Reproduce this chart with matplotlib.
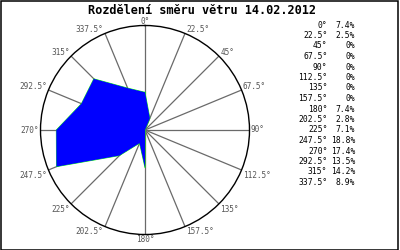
import numpy as np
import matplotlib
matplotlib.use("Agg")
import matplotlib.pyplot as plt
from matplotlib.patches import Rectangle

title = "Rozdělení směru větru 14.02.2012"
directions = [0, 22.5, 45, 67.5, 90, 112.5, 135, 157.5,
              180, 202.5, 225, 247.5, 270, 292.5, 315, 337.5]
percent = [7.4, 2.5, 0, 0, 0, 0, 0, 0,
           7.4, 2.8, 7.1, 18.8, 17.4, 13.5, 14.2, 8.9]

RMAX = 20.5
W, H = 400, 250
mono = "DejaVu Sans Mono"

fig = plt.figure(figsize=(4, 2.5), dpi=100)
fig.patch.set_facecolor("white")

cx, cy, R = 145, 130, 104.5
ax = fig.add_axes([(cx - R) / W, (H - cy - R) / H, 2 * R / W, 2 * R / H],
                  projection="polar")
ax.set_theta_zero_location("N")
ax.set_theta_direction(-1)
ax.set_ylim(0, RMAX)
ax.set_xticks([])
ax.set_yticks([])
ax.grid(False)
ax.set_facecolor("white")
ax.spines["polar"].set_color("black")
ax.spines["polar"].set_linewidth(1.0)

theta = np.deg2rad(directions)
# spokes
for t in theta:
    ax.plot([t, t], [0, RMAX], color="#6a6a6a", lw=0.9, zorder=1)

# data polygon
th_c = np.append(theta, theta[0])
r_c = np.append(percent, percent[0])
ax.plot(th_c, r_c, color="#00ff00", lw=0.6, zorder=2)
ax.fill(th_c, r_c, facecolor="#0000ff", edgecolor="none", zorder=3)

# direction labels
for d, t in zip(directions, theta):
    s, c = np.sin(t), np.cos(t)
    if abs(s) < 1e-6:
        ha = "center"
    elif s > 0:
        ha = "left"
    else:
        ha = "right"
    if abs(c) < 1e-6:
        va = "center"
    elif c > 0:
        va = "baseline"
    else:
        va = "top"
    dx = 1.0 if s > 1e-6 else (-1.0 if s < -1e-6 else 0)
    dy = 1.0 if c > 1e-6 else (-0.5 if c < -1e-6 else 0)
    ax.annotate(f"{d:g}°", xy=(t, RMAX), xytext=(dx, dy),
                textcoords="offset points", ha=ha, va=va,
                fontsize=5.6, family=mono, color="#555555",
                annotation_clip=False, zorder=5)

# title
fig.text(202 / W, 1 - 10 / H, title, ha="center", va="center",
         fontsize=8.6, fontweight="bold", family=mono, color="black")

# legend table
for i, (d, p) in enumerate(zip(directions, percent)):
    y = 1 - (25 + 10.5 * i) / H
    fig.text(327.5 / W, y, f"{d:g}°", ha="right", va="center",
             fontsize=5.8, family=mono, color="black")
    fig.text(355 / W, y, f"{p:g}%", ha="right", va="center",
             fontsize=5.8, family=mono, color="black")

# outer border
fig.patches.append(Rectangle((0.5 / W, 0.5 / H), 397 / W, 249 / H,
                             transform=fig.transFigure, fill=False,
                             edgecolor="black", lw=1.1))

fig.savefig("out.png", dpi=100, facecolor="white")
